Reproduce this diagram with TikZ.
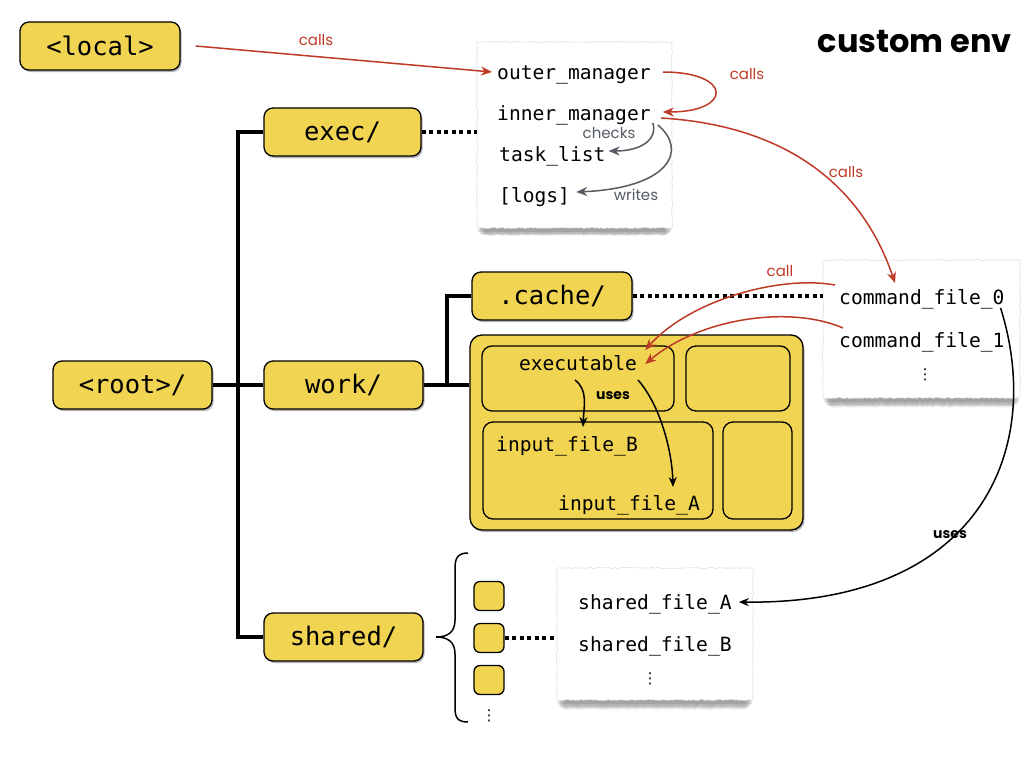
\documentclass[tikz,border=0pt]{standalone}
\usepackage{fontspec}
\setmonofont{DejaVu Sans Mono}
\newfontfamily\lblfont{Poppins}
\newfontfamily\djv{DejaVu Sans}
\usetikzlibrary{arrows.meta,shadows,decorations.pathmorphing}
\definecolor{ylw}{HTML}{F0D452}
\definecolor{redc}{HTML}{BF3A26}
\definecolor{grayc}{HTML}{555B63}
\begin{document}
\begin{tikzpicture}[x=1pt,y=-1pt,
  ybox/.style={draw, line width=1.3pt, fill=ylw, rounded corners=9pt, minimum height=48pt, inner sep=0pt,
    font=\ttfamily\fontsize{25.5}{28}\selectfont,
    drop shadow={shadow xshift=1.5pt, shadow yshift=-2pt, opacity=0.3, fill=black}},
  ibox/.style={draw, line width=1.3pt, fill=ylw, rounded corners=10pt, inner sep=0pt},
  sqbox/.style={draw, line width=1.3pt, fill=ylw, rounded corners=6pt, inner sep=0pt, minimum width=30pt, minimum height=29pt},
  paper/.style={fill=white, draw=black!15, line width=0.5pt, inner sep=0pt,
    decoration={random steps, segment length=2pt, amplitude=0.5pt}, decorate,
    drop shadow={shadow xshift=0pt, shadow yshift=-15pt, shadow scale=0.93, opacity=0.08, fill=black},
    drop shadow={shadow xshift=0pt, shadow yshift=-12pt, shadow scale=0.95, opacity=0.1, fill=black},
    drop shadow={shadow xshift=0pt, shadow yshift=-9pt, shadow scale=0.97, opacity=0.12, fill=black},
    drop shadow={shadow xshift=0pt, shadow yshift=-5pt, shadow scale=0.99, opacity=0.12, fill=black}},
  mono/.style={font=\ttfamily\fontsize{19.6}{22}\selectfont, inner sep=0pt, anchor=west, text height=1.6ex, text depth=0.3ex},
  vdt/.style={inner sep=0pt, font=\djv\fontsize{15}{15}\selectfont},
  tree/.style={line width=4pt},
  dots/.style={line width=4pt, dash pattern=on 4pt off 3.5pt},
  redarr/.style={draw=redc, line width=1.5pt, -{Stealth[length=11pt,width=9pt]}},
  grayarr/.style={draw=grayc, line width=1.5pt, -{Stealth[length=11pt,width=9pt]}},
  blkarr/.style={draw=black, line width=1.5pt, -{Stealth[length=10pt,width=8pt]}},
  redlbl/.style={font=\lblfont\fontsize{15}{17}\selectfont, text=redc, inner sep=0pt},
  graylbl/.style={font=\lblfont\fontsize{15}{17}\selectfont, text=grayc, inner sep=0pt},
  blklbl/.style={font=\lblfont\bfseries\fontsize{14}{16}\selectfont, text=black, inner sep=0pt}
]
\useasboundingbox (0,0) rectangle (1024,768);

% title
\node[font=\lblfont\bfseries\fontsize{32}{36}\selectfont, anchor=east, inner sep=0pt] (title) at (1012,42) {custom env};

% tree nodes
\node[ybox, minimum width=160pt] (local) at (100,46) {<local>};
\node[ybox, minimum width=157pt] (exec) at (342.5,132) {exec/};
\node[ybox, minimum width=159pt] (root) at (132.5,385) {<root>/};
\node[ybox, minimum width=159pt] (work) at (343.5,385) {work/};
\node[ybox, minimum width=159pt] (shared) at (343.5,637) {shared/};
\node[ybox, minimum width=160pt] (cache) at (552,296) {.cache/};

% big work box
\node[ybox, minimum width=333pt, minimum height=195pt, rounded corners=12pt] (wbox) at (636.5,432.5) {};
\node[ibox, minimum width=192pt, minimum height=65pt] (in1) at (578,378.5) {};
\node[ibox, minimum width=104pt, minimum height=65pt] (in2) at (738,378.5) {};
\node[ibox, minimum width=230pt, minimum height=97pt] (in3) at (598,470.5) {};
\node[ibox, minimum width=69pt, minimum height=97pt] (in4) at (757.5,470.5) {};

% small squares
\node[sqbox] (sq1) at (489,596) {};
\node[sqbox] (sq2) at (489,638) {};
\node[sqbox] (sq3) at (489,680) {};
\node[vdt] (sqdots) at (489,716) {⋮};

% brace
\draw[line width=1.5pt] (468,553) .. controls (458,553) and (455,558) .. (455,568) -- (455,620)
  .. controls (455,632) and (448,637) .. (436,637) .. controls (448,637) and (455,642) .. (455,654)
  -- (455,708) .. controls (455,718) and (458,722) .. (468,722);

% tree lines
\coordinate (trunk) at (238,385);
\coordinate (br) at (447,385);
\draw[tree] (exec.west) -| (trunk |- shared.west) -- (shared.west);
\draw[tree] (root.east) -- (work.west);
\draw[tree] (work.east) -- (work.east -| wbox.west);
\draw[tree] (br) |- (cache.west);

% papers
\node[paper, minimum width=195pt, minimum height=186pt] (p1) at (574.5,135) {};
\node[paper, minimum width=197pt, minimum height=138pt] (p2) at (921.5,329) {};
\node[paper, minimum width=196pt, minimum height=132pt] (p3) at (655,634) {};

% dotted links
\draw[dots] (exec.east) -- (exec.east -| p1.west);
\draw[dots] (cache.east) -- (cache.east -| p2.west);
\draw[dots] (sq2.east) -- (sq2.east -| p3.west);

% paper texts
\node[mono] (outer) at (497,77) {outer\_manager};
\node[mono] (inner) at (497,118) {inner\_manager};
\node[mono] (task) at (499,159) {task\_list};
\node[mono] (logs) at (499,200) {[logs]};
\node[mono] (cf0) at (839,302) {command\_file\_0};
\node[mono] (cf1) at (839,345) {command\_file\_1};
\node[vdt] (cfdots) at (925,375) {⋮};
\node[mono] (sfa) at (578,607) {shared\_file\_A};
\node[mono] (sfb) at (578,649) {shared\_file\_B};
\node[vdt] (sfdots) at (650,679) {⋮};
\node[mono, anchor=center] (exe) at (578,368) {executable};
\node[mono] (ifb) at (496,449) {input\_file\_B};
\node[mono] (ifa) at (558,508) {input\_file\_A};

% red arrows
\draw[redarr] ([xshift=15pt]local.east) -- ([xshift=-5pt,yshift=5pt]outer.west);
\node[redlbl] (l1) at (316,40) {calls};
\draw[redarr] ([xshift=12pt,yshift=5pt]outer.east) .. controls +(70,0) and +(70,0) .. ([xshift=12pt,yshift=6pt]inner.east);
\node[redlbl] (l2) at (747,74) {calls};
\draw[redarr] ([xshift=10pt]inner.east) .. controls (780,125) and (860,180) .. ([xshift=56pt,yshift=19pt]cf0.west);
\node[redlbl] (l3) at (846,172) {calls};
\draw[redarr] ([xshift=-4pt,yshift=17pt]cf0.west) .. controls (780,275) and (690,300) .. ([xshift=8pt,yshift=18pt]exe.east);
\node[redlbl] (l4) at (780,271) {call};
\draw[redarr] ([xshift=4pt,yshift=17pt]cf1.west) .. controls (790,305) and (700,318) .. ([xshift=8pt,yshift=4pt]exe.east);

% gray arrows
\draw[grayarr] ([xshift=2pt,yshift=-5pt]inner.east) .. controls (658,140) and (640,151) .. ([xshift=3pt,yshift=8pt]task.east);
\node[graylbl] (l5) at (609,133) {checks};
\draw[grayarr] ([xshift=7pt,yshift=-7pt]inner.east) .. controls (688,150) and (670,188) .. ([xshift=6pt,yshift=8pt]logs.east);
\node[graylbl] (l6) at (636,195) {writes};

% black arrows
\draw[blkarr] ([xshift=-3pt,yshift=-12pt]exe.center) .. controls (588,390) and (584,405) .. ([xshift=87pt,yshift=22pt]ifb.west);
\draw[blkarr] ([xshift=60pt,yshift=-12pt]exe.center) .. controls (660,405) and (672,450) .. ([xshift=115pt,yshift=21pt]ifa.west);
\node[blklbl] (l7) at (613,396) {uses};
\draw[blkarr] ([xshift=-4pt,yshift=-6pt]cf0.east) .. controls (1045,450) and (980,605) .. ([xshift=7pt,yshift=5pt]sfa.east);
\node[blklbl] (l8) at (950,535) {uses};
\end{tikzpicture}
\end{document}
